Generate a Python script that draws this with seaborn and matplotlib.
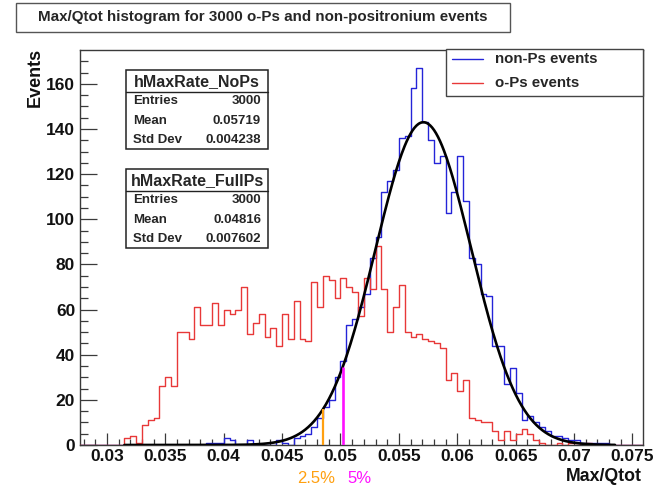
import numpy as np
import pandas as pd
import matplotlib
matplotlib.use("Agg")
import matplotlib.pyplot as plt
import seaborn as sns
from matplotlib.patches import Rectangle
from matplotlib.lines import Line2D

# ---------------- data ----------------
bin_lo = 0.0275
bin_width = 0.0005

# non-Ps events (blue), 97 bins of 0.0005 starting at 0.0275
nops_counts = [0] * 22 + [
    1, 1, 1, 3, 2, 0, 0, 2, 0, 0, 0, 0, 2, 1, 0, 3, 4, 5, 8, 12, 17, 20, 30,
    37, 53, 56, 61, 67, 83, 92, 112, 117, 122, 136, 137, 158, 167,
    143, 135, 125, 128, 103, 112, 128, 108, 83, 80, 67, 66, 44, 44, 27, 34, 23,
    11, 13, 10, 8, 6, 4, 4, 3, 2, 2, 1, 1, 1, 1, 1,
] + [0] * 6

# o-Ps events (red)
ops_counts = [0] * 8 + [
    3, 4, 1, 9, 11, 12, 26, 30, 26, 50, 50, 47, 61, 53, 53, 63, 53, 60, 58, 60,
    70, 49, 54, 58, 48, 52, 44, 58, 47, 64, 47, 46, 72, 61, 75, 73, 65, 74, 70,
    68, 57, 74, 69, 88, 69, 50, 61, 71, 50, 48, 49, 47, 46, 45, 43, 29, 32, 24,
    29, 12, 11, 10, 10, 6, 2, 6, 2, 5, 7, 5, 2, 1, 0, 0, 1, 0, 1, 1, 0, 1,
] + [0] * 9

# gaussian fit to the non-Ps histogram
fit_amp = 143.0
fit_mean = 0.0571
fit_sigma = 0.0041
fit_lo, fit_hi = 0.0315, 0.0735

cut_25 = 0.0485   # 2.5 % cut (orange)
cut_5 = 0.0502    # 5 % cut (magenta)

x_ticks = [0.03, 0.035, 0.04, 0.045, 0.05, 0.055, 0.06, 0.065, 0.07, 0.075]
x_tick_labels = ["0.03", "0.035", "0.04", "0.045", "0.05", "0.055", "0.06",
                 "0.065", "0.07", "0.075"]
y_ticks = [0, 20, 40, 60, 80, 100, 120, 140, 160]

stats_nops = ["hMaxRate_NoPs", "3000", "0.05719", "0.004238"]
stats_ops = ["hMaxRate_FullPs", "3000", "0.04816", "0.007602"]

# ---------------- styling ----------------
sns.set_theme(style="white")
plt.rcParams['font.family'] = ['Liberation Sans', 'DejaVu Sans']

BLUE = "#2424d8"
RED = "#e83838"
FRAME = "#3a3a3a"

W, H = 659, 486
def fx(px):
    return px / W
def fy(py):
    return 1 - py / H

fig = plt.figure(figsize=(W / 100, H / 100), dpi=100)
fig.patch.set_facecolor("white")
ax = fig.add_axes([fx(80), fy(445), (643 - 80) / W, (445 - 50) / H])

n_bins = len(nops_counts)
edges = [bin_lo + bin_width * i for i in range(n_bins + 1)]
centers = [bin_lo + bin_width * (i + 0.5) for i in range(n_bins)]
df_nops = pd.DataFrame({"x": centers, "w": np.asarray(nops_counts, dtype=float)})
df_ops = pd.DataFrame({"x": centers, "w": np.asarray(ops_counts, dtype=float)})

sns.histplot(data=df_nops, x="x", weights="w", bins=edges, element="step",
             fill=False, color=BLUE, linewidth=1.0, ax=ax, zorder=2)
sns.histplot(data=df_ops, x="x", weights="w", bins=edges, element="step",
             fill=False, color=RED, linewidth=1.0, ax=ax, zorder=3)

def fit_at(x):
    return fit_amp * np.exp(-0.5 * ((x - fit_mean) / fit_sigma) ** 2)

xs = np.linspace(fit_lo, fit_hi, 500)
sns.lineplot(x=xs, y=fit_at(xs), color="black", linewidth=1.9, ax=ax, zorder=4)

ax.vlines(cut_25, 0, fit_at(cut_25), color="#ffa010", linewidth=1.6, zorder=5)
ax.vlines(cut_5, 0, fit_at(cut_5), color="#ff10ff", linewidth=1.9, zorder=5)

ax.set_xlim(0.0277, 0.0759)
ax.set_ylim(0, 175)
ax.set_xlabel("")
ax.set_ylabel("")
ax.set_xticks(x_ticks)
ax.set_xticklabels(x_tick_labels)
ax.set_yticks(y_ticks)
ax.set_yticklabels([str(v) for v in y_ticks])
ax.set_xticks(np.arange(0.028, 0.0759, 0.001), minor=True)
ax.set_yticks(np.arange(0, 175, 5), minor=True)
for lab in ax.get_xticklabels() + ax.get_yticklabels():
    lab.set_fontweight("bold")
    lab.set_fontsize(12.5)
    lab.set_color("#111111")
ax.tick_params(axis="x", which="major", direction="in", length=8.5, width=0.9,
               color=FRAME, pad=3, bottom=True, top=False)
ax.tick_params(axis="x", which="minor", direction="in", length=4.3, width=0.9,
               color=FRAME, bottom=True, top=False)
ax.tick_params(axis="y", which="major", direction="in", length=12.2, width=0.9,
               color=FRAME, pad=3.5, left=True, right=False)
ax.tick_params(axis="y", which="minor", direction="in", length=6.1, width=0.9,
               color=FRAME, left=True, right=False)
for sp in ax.spines.values():
    sp.set_visible(True)
    sp.set_color(FRAME)
    sp.set_linewidth(1.0)
ax.grid(False)

# axis titles
fig.text(fx(35), fy(48), "Events", rotation=90, ha="center", va="top",
         fontsize=13, fontweight="bold", color="#111111")
fig.text(fx(642), fy(476), "Max/Qtot", ha="right", va="center",
         fontsize=12.8, fontweight="bold", color="#111111")
fig.text(fx(316), fy(478), "2.5%", ha="center", va="center", fontsize=12,
         color="#ffa010")
fig.text(fx(359.5), fy(478), "5%", ha="center", va="center", fontsize=12,
         color="#ff10ff")

# boxes
def box(x0, y0, x1, y1, ec="#555555", lw=1.0):
    fig.add_artist(Rectangle((fx(x0), fy(y1)), fx(x1) - fx(x0), fy(y0) - fy(y1),
                             transform=fig.transFigure, facecolor="white",
                             edgecolor=ec, linewidth=lw, zorder=10))

box(16, 3, 510, 32)
fig.text(fx(263), fy(17.5), "Max/Qtot histogram for 3000 o-Ps and non-positronium events",
         ha="center", va="center", fontsize=10.9, fontweight="bold", zorder=11)

# legend box
box(446, 49, 643, 96, ec="#444444")
for yl, col, lab in [(59, BLUE, "non-Ps events"), (82.7, RED, "o-Ps events")]:
    fig.add_artist(Line2D([fx(452), fx(483)], [fy(yl), fy(yl)], color=col,
                          linewidth=1.0, transform=fig.transFigure, zorder=11))
    fig.text(fx(495), fy(yl), lab, ha="left", va="center", fontsize=10.8,
             fontweight="bold", zorder=11)

# stats boxes
def stats(y0, vals):
    box(126, y0, 268, y0 + 79, ec="#222222", lw=1.1)
    fig.add_artist(Line2D([fx(126), fx(268)], [fy(y0 + 22), fy(y0 + 22)],
                          color="#222222", linewidth=1.0,
                          transform=fig.transFigure, zorder=11))
    fig.text(fx(197), fy(y0 + 11.5), vals[0], ha="center", va="center",
             fontsize=11.5, fontweight="bold", zorder=11)
    for i, name in enumerate(["Entries", "Mean", "Std Dev"]):
        yy = y0 + 31 + 19.7 * i
        fig.text(fx(133), fy(yy), name, ha="left", va="center", fontsize=9.5,
                 fontweight="bold", zorder=11)
        fig.text(fx(261), fy(yy), vals[i + 1], ha="right", va="center",
                 fontsize=9.5, fontweight="bold", zorder=11)

stats(70, stats_nops)
stats(169, stats_ops)

fig.savefig("out.png", dpi=100, facecolor="white")
